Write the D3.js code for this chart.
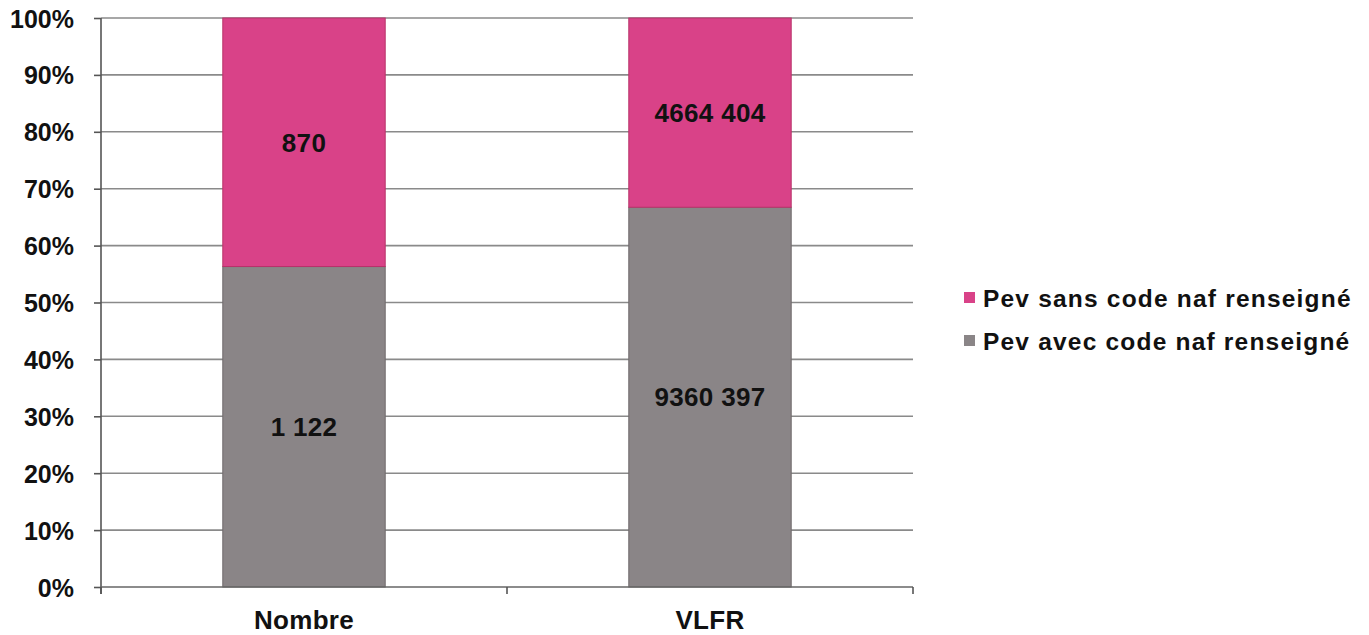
<!DOCTYPE html>
<html>
<head>
<meta charset="utf-8">
<script src="https://cdn.jsdelivr.net/npm/d3@7"></script>
<style>
  html, body { margin: 0; padding: 0; background: #fff; }
  svg text { font-family: Arial, "Liberation Sans", sans-serif; font-weight: bold; fill: #111; }
</style>
</head>
<body>
<svg id="chart" width="1369" height="635"></svg>
<script>
// Categories and the two stacked series (raw counts)
const categories = ["Nombre", "VLFR"];
const avecCode = [1122, 9360397];   // Pev avec code naf renseigné
const sansCode = [870, 4664404];    // Pev sans code naf renseigné
const seriesNames = ["Pev avec code naf renseigné", "Pev sans code naf renseigné"];
const yTicks = [0, 0.1, 0.2, 0.3, 0.4, 0.5, 0.6, 0.7, 0.8, 0.9, 1.0];

const colors = {
  "Pev avec code naf renseigné": "#8a8587",
  "Pev sans code naf renseigné": "#d94288"
};
const strokes = {
  "Pev avec code naf renseigné": "#6f6a6c",
  "Pev sans code naf renseigné": "#b8336a"
};

const svg = d3.select("#chart");
const plotLeft = 101, plotRight = 913, plotTop = 18, plotBottom = 587;

const x = d3.scaleBand().domain(categories).range([plotLeft, plotRight]).paddingInner(0).paddingOuter(0);
const y = d3.scaleLinear().domain([0, 1]).range([plotBottom, plotTop]);
const barFrac = 0.4;

// Gridlines
svg.append("g")
  .selectAll("line")
  .data(yTicks.slice(1))
  .join("line")
  .attr("x1", plotLeft).attr("x2", plotRight)
  .attr("y1", d => y(d)).attr("y2", d => y(d))
  .attr("stroke", "#8a8a8a").attr("stroke-width", 1.6);

// Stack normalised per category
const rows = categories.map((c, i) => {
  const total = avecCode[i] + sansCode[i];
  return {
    cat: c,
    "Pev avec code naf renseigné": avecCode[i] / total,
    "Pev sans code naf renseigné": sansCode[i] / total,
    raw: { "Pev avec code naf renseigné": avecCode[i], "Pev sans code naf renseigné": sansCode[i] }
  };
});
const stack = d3.stack().keys(seriesNames)(rows);

const fmt = v => {
  const s = String(v);
  return s.length > 3 ? s.slice(0, -3) + " " + s.slice(-3) : s;
};

const bw = x.bandwidth() * barFrac;
const bx = d => x(d.data.cat) + (x.bandwidth() - bw) / 2;

stack.forEach(layer => {
  const g = svg.append("g");
  g.selectAll("rect")
    .data(layer)
    .join("rect")
    .attr("x", bx)
    .attr("width", bw)
    .attr("y", d => y(d[1]))
    .attr("height", d => y(d[0]) - y(d[1]))
    .attr("fill", colors[layer.key])
    .attr("stroke", strokes[layer.key])
    .attr("stroke-width", 1);
  g.selectAll("text")
    .data(layer)
    .join("text")
    .attr("x", d => bx(d) + bw / 2)
    .attr("y", d => y((d[0] + d[1]) / 2))
    .attr("dy", "0.36em")
    .attr("text-anchor", "middle")
    .attr("font-size", 26)
    .attr("letter-spacing", 0.3)
    .text(d => fmt(d.data.raw[layer.key]));
});

// Y axis
const yAxis = d3.axisLeft(y).tickValues(yTicks).tickFormat(d3.format(".0%")).tickSize(7).tickPadding(20);
const gy = svg.append("g").attr("transform", `translate(${plotLeft},0)`).call(yAxis);
gy.select(".domain").attr("stroke", "#555").attr("stroke-width", 1.6).attr("d", `M0,${plotTop}V${plotBottom + 7}`);
gy.selectAll(".tick line").attr("stroke", "#555").attr("stroke-width", 1.6);
gy.selectAll(".tick text").attr("font-size", 25).attr("font-family", "Arial, 'Liberation Sans', sans-serif").attr("font-weight", "bold").attr("fill", "#111").attr("dy", "0.36em");

// X axis baseline with tick marks at category boundaries
const gx = svg.append("g");
gx.append("line")
  .attr("x1", plotLeft).attr("x2", plotRight).attr("y1", plotBottom).attr("y2", plotBottom)
  .attr("stroke", "#666").attr("stroke-width", 1.6);
const bounds = categories.map(c => x(c)).concat([x(categories[categories.length - 1]) + x.bandwidth()]);
gx.selectAll("line.tk")
  .data(bounds)
  .join("line")
  .attr("class", "tk")
  .attr("x1", d => d).attr("x2", d => d)
  .attr("y1", plotBottom).attr("y2", plotBottom + 7)
  .attr("stroke", "#555").attr("stroke-width", 1.6);
gx.selectAll("text")
  .data(categories)
  .join("text")
  .attr("x", d => x(d) + x.bandwidth() / 2)
  .attr("y", 629)
  .attr("text-anchor", "middle")
  .attr("font-size", 26)
  .attr("letter-spacing", 0.3)
  .text(d => d);

// Legend
const legendItems = ["Pev sans code naf renseigné", "Pev avec code naf renseigné"];
const lg = svg.append("g").selectAll("g")
  .data(legendItems)
  .join("g")
  .attr("transform", (d, i) => `translate(964,${298 + i * 43})`);
lg.append("rect")
  .attr("x", 0).attr("y", -6).attr("width", 11).attr("height", 11)
  .attr("fill", d => colors[d]);
lg.append("text")
  .attr("x", 19).attr("y", 0).attr("dy", "0.36em")
  .attr("font-size", 24.5)
  .attr("letter-spacing", 1.2)
  .text(d => d);
</script>
</body>
</html>
